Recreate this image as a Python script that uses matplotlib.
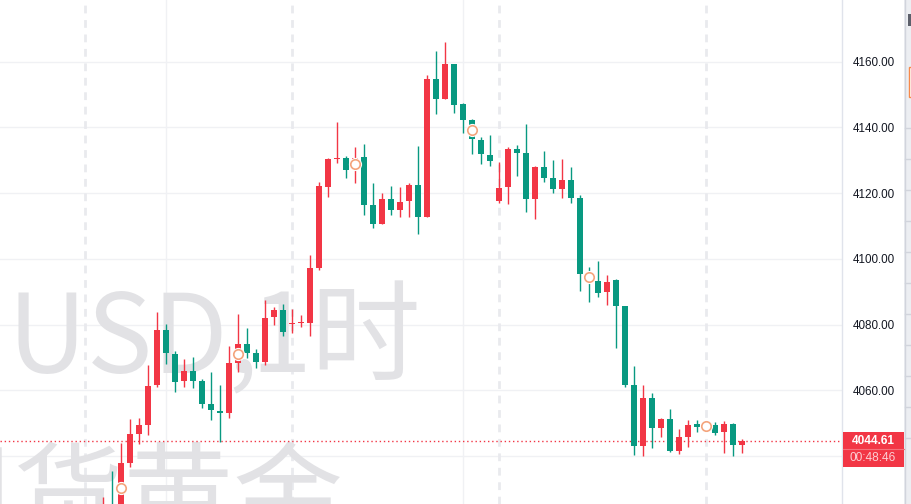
import matplotlib
matplotlib.use('Agg')
import matplotlib.pyplot as plt
import matplotlib.patches as patches
import matplotlib.transforms as mtransforms
import numpy as np

# velas 1 hora (apertura, maximo, minimo, cierre)
apertura = [4018.0, 4024.0, 4024.0, 4038.0, 4046.7, 4049.4, 4061.7, 4078.4, 4071.1, 4062.8,
            4065.9, 4062.8, 4055.7, 4053.6, 4053.2, 4068.4, 4074.1, 4071.3, 4068.7, 4082.4,
            4084.4, 4080.2, 4080.5, 4080.6, 4097.1, 4122.0, 4130.4, 4130.7, 4127.2, 4131.0,
            4116.4, 4110.7, 4118.2, 4115.0, 4117.7, 4122.5, 4112.8, 4154.7, 4148.7, 4159.3,
            4147.0, 4142.4, 4136.1, 4131.6, 4117.7, 4122.0, 4133.4, 4132.2, 4118.1, 4128.0,
            4124.6, 4121.4, 4124.1, 4118.5, 4095.8, 4093.3, 4090.0, 4093.6, 4085.7, 4061.6,
            4043.1, 4057.7, 4048.6, 4051.3, 4041.6, 4045.9, 4049.7, 4048.9, 4049.5, 4047.4,
            4049.7, 4043.5]
maximo = [4027.5, 4035.5, 4044.1, 4051.4, 4051.7, 4067.7, 4083.7, 4080.2, 4072.1, 4069.4,
          4070.0, 4063.4, 4065.6, 4061.6, 4073.5, 4083.3, 4079.0, 4072.6, 4087.5, 4085.4,
          4086.3, 4084.7, 4082.9, 4101.2, 4123.3, 4130.7, 4141.7, 4131.3, 4134.0, 4135.0,
          4123.1, 4120.0, 4122.2, 4121.9, 4123.2, 4134.3, 4155.9, 4163.3, 4166.0, 4159.3,
          4147.6, 4142.6, 4137.2, 4137.8, 4129.6, 4134.0, 4134.7, 4141.1, 4128.4, 4132.8,
          4130.1, 4130.4, 4128.0, 4119.4, 4097.6, 4099.4, 4095.0, 4093.9, 4085.7, 4067.4,
          4061.5, 4059.2, 4051.6, 4054.3, 4048.2, 4050.9, 4050.9, 4049.8, 4050.3, 4050.6,
          4050.0, 4045.2]
minimo = [4015.0, 4015.0, 4020.0, 4036.8, 4043.7, 4046.4, 4061.0, 4067.9, 4059.4, 4061.1,
          4060.8, 4054.5, 4051.1, 4044.4, 4051.7, 4065.7, 4069.9, 4066.9, 4067.8, 4080.0,
          4076.6, 4077.4, 4079.3, 4076.5, 4096.5, 4118.9, 4129.3, 4124.6, 4123.2, 4113.4,
          4109.3, 4110.5, 4113.4, 4112.7, 4112.7, 4107.5, 4112.8, 4144.2, 4148.7, 4144.5,
          4138.4, 4132.0, 4129.0, 4128.4, 4117.1, 4116.8, 4125.3, 4114.4, 4112.2, 4123.5,
          4120.1, 4118.6, 4116.9, 4090.3, 4087.0, 4088.5, 4086.1, 4073.0, 4061.1, 4040.3,
          4040.0, 4042.4, 4045.9, 4041.2, 4040.7, 4042.8, 4047.4, 4048.5, 4046.5, 4041.0,
          4040.1, 4041.0]
cierre = [4024.0, 4020.0, 4037.9, 4046.7, 4049.4, 4061.3, 4078.4, 4071.4, 4062.6, 4065.9,
          4062.9, 4055.9, 4054.1, 4053.2, 4068.3, 4074.1, 4071.4, 4068.7, 4082.0, 4084.4,
          4077.8, 4080.6, 4080.9, 4097.2, 4122.2, 4130.3, 4130.8, 4127.1, 4130.8, 4116.5,
          4110.7, 4118.2, 4115.0, 4117.3, 4122.5, 4112.8, 4154.7, 4148.7, 4159.3, 4146.9,
          4142.4, 4136.4, 4132.0, 4129.9, 4121.6, 4133.4, 4132.3, 4118.1, 4128.0, 4124.7,
          4121.4, 4124.1, 4118.6, 4095.5, 4093.0, 4089.7, 4093.0, 4085.8, 4061.7, 4043.1,
          4057.7, 4048.6, 4051.3, 4041.6, 4045.8, 4049.4, 4048.9, 4049.3, 4047.1, 4049.7,
          4043.5, 4044.61]

# marcadores circulares (indice de vela, precio)
marca_idx = [2, 15, 28, 41, 54, 67]
marca_precio = [4030.4, 4071.1, 4129.0, 4139.2, 4094.4, 4049.1]

niveles = [4040, 4060, 4080, 4100, 4120, 4140, 4160]
ultimo = cierre[-1]
cuenta_atras = '00:48:46'

ROJO = '#F23645'
VERDE = '#089981'
GRIS_MARCA = '#e2e2e5'
FUENTE_MARCA = ['Noto Sans CJK SC', 'DejaVu Sans']

W, H = 911, 504
ylo, yhi = 4025.4, 4178.8
px_y = (yhi - ylo) / H

def px2x(px):
    return (px - 103) / 9.0

def py2y(py):
    return yhi - py * px_y

fig = plt.figure(figsize=(W / 100, H / 100), dpi=100)
ax = fig.add_axes([0, 0, 842 / W, 1])
ax.set_xlim(px2x(0), px2x(842))
ax.set_ylim(ylo, yhi)
for s in ax.spines.values():
    s.set_visible(False)
ax.set_xticks([])

# rejilla
for n in niveles:
    ax.axhline(n, color='#f0f1f4', lw=1, zorder=0)
for v in [7, 40]:
    ax.axvline(v, color='#f0f1f4', lw=1, zorder=0)
for v in [-2, 21, 44, 67]:
    ax.axvline(v, color='#e9eaee', lw=2, ls=(0, (2.8, 2.4)), zorder=0)

# marca de agua
ax.text(px2x(259), py2y(372), 'XAUUSD,', ha='right', va='baseline',
        fontsize=79, color=GRIS_MARCA, family=FUENTE_MARCA, zorder=1)
ax.text(px2x(421), py2y(372), '1时', ha='right', va='baseline',
        fontsize=79, color=GRIS_MARCA, family=FUENTE_MARCA, zorder=1)
ax.text(px2x(343), py2y(534), '现货黄金', ha='right', va='baseline',
        fontsize=79, color=GRIS_MARCA, family=FUENTE_MARCA, zorder=1)

# velas
x = np.arange(len(cierre))
o = np.array(apertura)
c = np.array(cierre)
colores = [ROJO if cc >= oo else VERDE for oo, cc in zip(o, c)]
alto = np.maximum(np.abs(c - o), 0.35)
base = np.minimum(o, c)
ax.vlines(x, minimo, maximo, colors=colores, lw=1, zorder=3)
ax.bar(x, alto, bottom=base, width=0.76, color=colores, linewidth=0, zorder=4)

ax.plot(marca_idx, marca_precio, 'o', ms=9.5, mfc='white', mec='white', mew=0, zorder=5)
ax.plot(marca_idx, marca_precio, 'o', ms=6.8, mfc='white', mec='#f4a47c', mew=1.2, zorder=6)

# linea del precio actual
ax.axhline(ultimo, color=ROJO, lw=1, ls=(0, (1, 2)), zorder=2)

# eje de precios
ax.yaxis.tick_right()
ax.set_yticks(niveles[1:])
ax.set_yticklabels(['%.2f' % n for n in niveles[1:]])
ax.tick_params(axis='y', length=0, pad=7.5, labelsize=8.4, labelcolor='#131722')
for t in ax.get_yticklabels():
    t.set_fontfamily('Liberation Sans')

trans = mtransforms.blended_transform_factory(fig.transFigure, ax.transData)
fig.add_artist(plt.Line2D([842 / W, 842 / W], [0, 1], transform=fig.transFigure, color='#e0e3eb', lw=1))
caja_top = ultimo + 9 * px_y
caja = patches.Rectangle((842.5 / W, caja_top - 35 * px_y), 61.5 / W, 35 * px_y,
                         transform=trans, color=ROJO, lw=0, zorder=10)
fig.add_artist(caja)
fig.add_artist(plt.Line2D([842.5 / W, 904 / W], [caja_top - 17.5 * px_y] * 2, transform=trans,
                          color='#f5707b', lw=0.8, zorder=11))
fig.text(873 / W, ultimo, '%.2f' % ultimo, transform=trans, ha='center', va='center',
         fontsize=8.6, color='white', fontweight='bold', family='Liberation Sans', zorder=12)
fig.text(873 / W, caja_top - 26.5 * px_y, cuenta_atras, transform=trans, ha='center', va='center',
         fontsize=8.6, color='#fbd0d4', family='Liberation Sans', zorder=12)

# barra lateral derecha
fig.add_artist(patches.Rectangle((904 / W, 0), 7 / W, 1, transform=fig.transFigure,
                                 color='#eceef2', lw=0))
fig.add_artist(plt.Line2D([904.5 / W, 904.5 / W], [0, 1], transform=fig.transFigure, color='#d1d4dc', lw=1))
fig.add_artist(patches.Rectangle((908 / W, 1 - 26 / H), 3 / W, 12 / H, transform=fig.transFigure,
                                 color='#5d606b', lw=0))
fig.add_artist(patches.Rectangle((908.5 / W, 1 - 97 / H), 3 / W, 30 / H, transform=fig.transFigure,
                                 facecolor='white', edgecolor='#f7894a', lw=1))
for py in np.arange(128, 440, 31):
    fig.add_artist(plt.Line2D([905 / W, 911 / W], [1 - py / H] * 2, transform=fig.transFigure,
                              color='#d1d4dc', lw=1))

fig.savefig('out.png', dpi=100, facecolor='white')
